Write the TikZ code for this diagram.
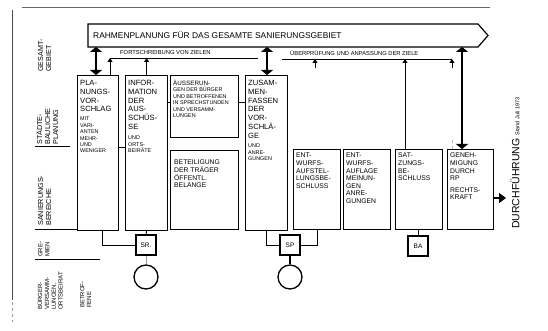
\documentclass[tikz,border=0pt]{standalone}
\usepackage{fontspec}
\setmainfont{Liberation Sans}
\usetikzlibrary{arrows.meta}
\begin{document}
\begin{tikzpicture}[x=1pt,y=-1pt,
  box/.style={draw, line width=1.2pt, inner sep=0pt, anchor=north west},
  big/.style={anchor=north west, inner sep=0pt, align=left, font=\fontsize{7.6}{8.8}\selectfont},
  mid/.style={anchor=north west, inner sep=0pt, align=left, font=\fontsize{6.8}{7.6}\selectfont},
  small/.style={anchor=north west, inner sep=0pt, align=left, font=\fontsize{5.4}{6.4}\selectfont},
  lab/.style={rotate=90, anchor=north west, inner sep=0pt, align=left, font=\fontsize{7.2}{8}\selectfont},
  ln/.style={line width=0.9pt},
  up/.style={ln, -{Triangle[width=5pt,length=4pt]}},
  dbl/.style={line width=1.1pt, {Triangle[width=12pt,length=5pt]}-{Triangle[width=12pt,length=5pt]}},
  sq/.style={draw, line width=1.2pt, minimum size=20pt, inner sep=0pt, font=\fontsize{6.5}{6.5}\selectfont},
  kr/.style={draw, circle, line width=1.3pt, minimum size=24pt, inner sep=0pt}
]
\useasboundingbox (0,0) rectangle (548,331);

% frame
\draw[line width=1pt, black!60] (22,8) -- (490,8);
\draw[line width=0.9pt, black!70] (12,10) -- (12,300);
\draw[line width=0.8pt, black!40, dashed] (12,302) -- (12,322);

% left column labels and dividers
\draw[line width=1pt] (35,147) -- (70,147);
\draw[line width=1pt] (35,229) -- (77,229);
\draw[line width=1pt] (35,259) -- (100,259);
\node[lab] (r1) at (38,72) {GESAMT-\\GEBIET};
\node[lab] (r2) at (36,145) {STÄDTE-\\BAULICHE\\PLANUNG};
\node[lab] (r3) at (38,226) {SANIERUNGS-\\BEREICHE};
\node[lab, font=\fontsize{6}{7}\selectfont] (r4) at (38,257) {GRE-\\MIEN};
\node[lab, font=\fontsize{6}{6.8}\selectfont] (r5) at (37,310) {BÜRGER-\\VERSAMM-\\LUNGEN,\\ORTSBEIRAT};
\node[lab, font=\fontsize{6}{6.8}\selectfont] (r6) at (80,308) {BETROF-\\FENE};

% main arrow
\draw[line width=1.2pt] (88,24) -- (478,24) -- (488,35.5) -- (478,47) -- (88,47) -- cycle;
\node[anchor=west, inner sep=0pt, font=\fontsize{8.4}{9}\selectfont] (rp) at (93,35.5) {RAHMENPLANUNG FÜR DAS GESAMTE SANIERUNGSGEBIET};

% boxes
\node[box, minimum width=41pt, minimum height=155pt] (b1) at (77,75) {};
\node[box, minimum width=42pt, minimum height=155pt] (b2) at (125,75) {};
\node[box, minimum width=68pt, minimum height=62pt] (b3) at (170,75) {};
\node[box, minimum width=68pt, minimum height=79pt] (b3b) at (170,150) {};
\node[box, minimum width=42pt, minimum height=155pt] (b4) at (245,75) {};
\node[box, minimum width=47pt, minimum height=80pt] (b5) at (293,149) {};
\node[box, minimum width=47pt, minimum height=80pt] (b6) at (343,149) {};
\node[box, minimum width=47pt, minimum height=80pt] (b7) at (395,149) {};
\node[box, minimum width=46pt, minimum height=80pt] (b8) at (447,149) {};

% box texts
\node[big] (t1) at (80,80) {PLA-\\NUNGS-\\VOR-\\SCHLAG};
\node[small] (t1s) at (80,117) {MIT\\VARI-\\ANTEN\\MEHR-\\UND\\WENIGER};
\node[big] (t2) at (128,80) {INFOR-\\MATION\\DER\\AUS-\\SCHÜS-\\SE};
\node[small] (t2s) at (128,136) {UND\\ORTS-\\BEIRÄTE};
\node[small] (t3) at (173,80) {\fontsize{6.3}{6.8}\selectfont ÄUSSERUN-\\GEN DER BÜRGER\\UND BETROFFENEN\\IN SPRECHSTUNDEN\\UND VERSAMM-\\LUNGEN};
\node[mid] (t3b) at (174,160) {BETEILIGUNG\\DER TRÄGER\\ÖFFENTL.\\BELANGE};
\node[big] (t4) at (248,80) {ZUSAM-\\MEN-\\FASSEN\\DER\\VOR-\\SCHLÄ-\\GE};
\node[small] (t4s) at (248,144) {UND\\ANRE-\\GUNGEN};
\node[mid] (t5) at (296,153) {ENT-\\WURFS-\\AUFSTEL-\\LUNGSBE-\\SCHLUSS};
\node[mid] (t6) at (346,153) {ENT-\\WURFS-\\AUFLAGE\\MEINUN-\\GEN\\ANRE-\\GUNGEN};
\node[mid] (t7) at (398,153) {SAT-\\ZUNGS-\\BE-\\SCHLUSS};
\node[mid] (t8) at (450,153) {GENEH-\\MIGUNG\\DURCH\\RP\\[4pt]RECHTS-\\KRAFT};

% upper feedback lines
\node[anchor=west, inner sep=0pt, font=\fontsize{5.8}{6}\selectfont] (f1) at (120,53) {FORTSCHREIBUNG VON ZIELEN};
\node[anchor=west, inner sep=0pt, font=\fontsize{5.8}{6}\selectfont] (f2) at (290,53) {ÜBERPRÜFUNG UND ANPASSUNG DER ZIELE};
\coordinate (l1a) at (110,58);
\coordinate (l1b) at (258,58);
\coordinate (l2a) at (282,59);
\coordinate (l2b) at (452,59);
\draw[ln] (l1a) -- (l1b);
\draw[ln] (l2a) -- (l2b);
\draw[up] (b1.north -| l1a) -- (l1a);
\draw[up] (b2.north) -- (b2.north |- l1a);
\coordinate (c315) at (315,59);
\coordinate (s315) at (315,68);
\draw[up] (s315) -- (c315);
\coordinate (c405) at (405,59);
\draw[up] (b7.north -| c405) -- (c405);
\draw[line width=0.6pt, black!30, dashed] (b8.north -| l2b) -- ++(0,-12);
\coordinate (s452) at (452,68);
\draw[up] (s452) -- (l2b);

% double arrows from framework plan
\coordinate (a1) at (96,47);
\coordinate (a4) at (267,47);
\coordinate (a8) at (462,47);
\draw[dbl] (a1) -- (a1 |- b1.north);
\draw[dbl] (a4) -- (a4 |- b4.north);
\draw[dbl] (a8) -- (a8 |- b8.north);

% box-to-box links
\coordinate (y147) at (0,147);
\coordinate (y102) at (0,102);
\draw[ln] (b1.east |- y147) -- (b2.west |- y147);
\draw[ln] (b2.east |- y102) -- (b3.west |- y102);
\draw[ln] (b3.east |- y102) -- (b4.west |- y102);

% exit arrow and Durchfuehrung
\coordinate (dur) at (506,198);
\draw[line width=1.3pt, -{Triangle[width=10pt,length=7pt]}] (b8.east |- dur) -- (dur);
\node[rotate=90, anchor=west, inner sep=0pt] (dt) at (515,229)
  {\fontsize{10.5}{10.5}\selectfont DURCHFÜHRUNG\ {\fontsize{5.5}{5.5}\selectfont Stand Juli 1973}};

% committees and meetings
\node[sq] (sr) at (146,245) {SR.};
\node[sq] (sp) at (290,245) {SP};
\node[sq] (ba) at (418,246) {BA};
\node[kr] (k1) at (146,277) {};
\node[kr] (k2) at (290,277) {};
\coordinate (j1) at (102,245);
\draw[ln] (b1.south -| j1) |- (sr.west);
\draw[ln] (b2.south) -- (sr.north);
\draw[line width=0.5pt, black!40] (sr.south) -- (k1.north);
\draw[ln] (b4.south) |- (sp.west);
\draw[ln] (b5.south) |- (sp.east);
\draw[line width=1.3pt] (sp.south) -- (k2.north);
\draw[ln] (b7.south -| ba) -- (ba.north);
\end{tikzpicture}
\end{document}
